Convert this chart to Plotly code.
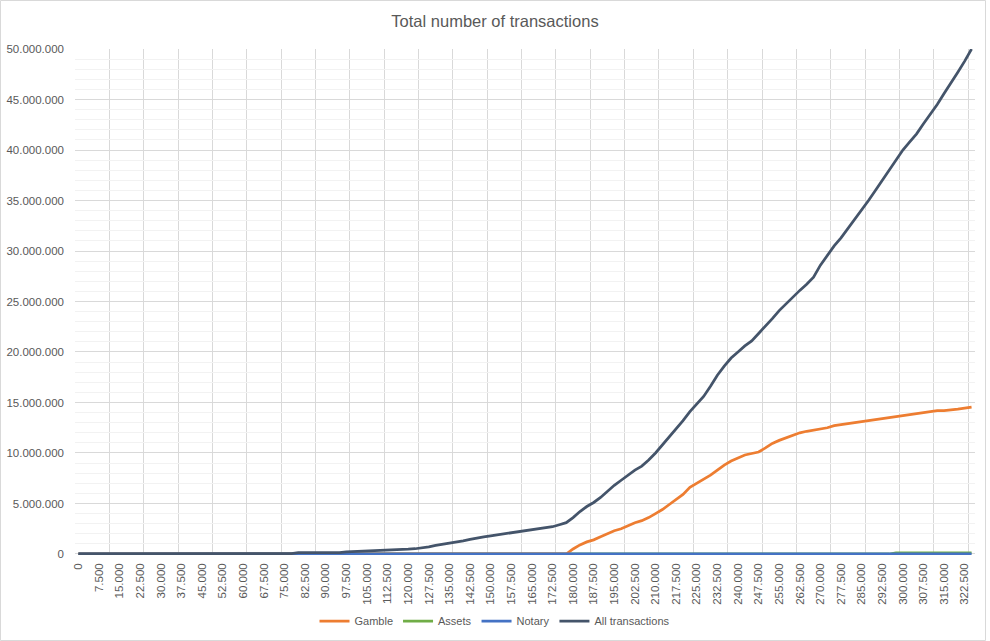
import plotly.graph_objects as go

# Categories (x) : 0 .. 325.000 step 2.500
categories = list(range(0, 327500, 2500))

# Values in millions, one per category
all_transactions_m = [
    0, 0, 0, 0, 0, 0, 0, 0,
    0.04, 0.04, 0.04, 0.04, 0.04, 0.04, 0.04, 0.04, 0.04, 0.04, 0.04, 0.04,
    0.04, 0.04, 0.04, 0.04, 0.04, 0.04, 0.04, 0.04, 0.04, 0.04, 0.04, 0.04,
    0.13, 0.13, 0.13, 0.13, 0.13, 0.13, 0.13,
    0.22, 0.24, 0.26, 0.28, 0.30, 0.32,
    0.35, 0.38, 0.42, 0.47, 0.52,
    0.58,
    0.70, 0.85, 0.95, 1.05, 1.2, 1.3, 1.45, 1.6,
    1.7, 1.8, 1.9, 2.0, 2.1, 2.2, 2.3, 2.4, 2.5, 2.6, 2.7,
    2.9, 3.1, 3.6, 4.2, 4.7, 5.1, 5.6, 6.2, 6.8, 7.3,
    7.8, 8.3, 8.7, 9.3, 10.0, 10.8, 11.6, 12.3, 13.2, 14.1,
    14.8, 15.6, 16.6, 17.7, 18.6, 19.4, 20.0, 20.6, 21.1, 21.8,
    22.6, 23.3, 24.1, 24.8, 25.5, 26.1, 26.7, 27.4, 28.6, 29.6,
    30.5, 31.3, 32.2, 33.2, 34.1, 35.0, 36.0, 37.0, 38.0, 39.0,
    40.0, 40.8, 41.6, 42.6, 43.5, 44.5, 45.6, 46.6, 47.7, 48.8,
    50.0,
]

gamble_m = [
    0, 0, 0, 0, 0, 0, 0, 0, 0, 0, 0, 0, 0, 0, 0, 0, 0, 0, 0, 0,
    0, 0, 0, 0, 0, 0, 0, 0, 0, 0, 0, 0, 0, 0, 0, 0, 0, 0, 0, 0,
    0, 0, 0, 0, 0, 0, 0, 0, 0, 0, 0, 0, 0, 0, 0, 0, 0, 0, 0, 0,
    0, 0, 0, 0, 0, 0, 0, 0, 0, 0, 0, 0,
    0.5, 0.9, 1.2, 1.4, 1.7, 2.0, 2.3, 2.5,
    2.8, 3.1, 3.3, 3.6, 4.0, 4.4, 4.9, 5.4, 5.9, 6.6,
    7.0, 7.4, 7.8, 8.3, 8.8, 9.2, 9.5, 9.8, 9.95, 10.1,
    10.5, 10.95, 11.25, 11.5, 11.7, 12.0, 12.15, 12.25, 12.35, 12.5,
    12.7, 12.8, 12.9, 13.0, 13.1, 13.2, 13.3, 13.4, 13.5, 13.6,
    13.7, 13.8, 13.9, 14.0, 14.1, 14.2, 14.2, 14.25, 14.35, 14.45,
    14.55,
]

assets_m = [
    0, 0, 0, 0, 0, 0, 0, 0, 0, 0, 0, 0, 0, 0, 0, 0, 0, 0, 0, 0,
    0, 0, 0, 0, 0, 0, 0, 0, 0, 0, 0, 0, 0, 0, 0, 0, 0, 0, 0, 0,
    0, 0, 0, 0, 0, 0, 0, 0, 0, 0, 0, 0, 0, 0, 0, 0, 0, 0, 0, 0,
    0, 0, 0, 0, 0, 0, 0, 0, 0, 0, 0, 0, 0, 0, 0, 0, 0, 0, 0, 0,
    0, 0, 0, 0, 0, 0, 0, 0, 0, 0, 0, 0, 0, 0, 0, 0, 0, 0, 0, 0,
    0, 0, 0, 0, 0, 0, 0, 0, 0, 0, 0, 0, 0, 0, 0, 0, 0, 0, 0,
    0.12, 0.12, 0.12, 0.12, 0.12, 0.12, 0.12, 0.12, 0.12, 0.12, 0.12, 0.12,
]

notary_m = [
    0, 0, 0, 0, 0, 0, 0, 0, 0, 0, 0, 0, 0, 0, 0, 0, 0, 0, 0, 0,
    0, 0, 0, 0, 0, 0, 0, 0, 0, 0, 0, 0, 0, 0, 0, 0, 0, 0, 0, 0,
    0, 0, 0, 0, 0, 0, 0, 0, 0, 0, 0, 0, 0, 0, 0, 0, 0, 0, 0, 0,
    0, 0, 0, 0, 0, 0, 0, 0, 0, 0, 0, 0, 0, 0, 0, 0, 0, 0, 0, 0,
    0, 0, 0, 0, 0, 0, 0, 0, 0, 0, 0, 0, 0, 0, 0, 0, 0, 0, 0, 0,
    0, 0, 0, 0, 0, 0, 0, 0, 0, 0, 0, 0, 0, 0, 0, 0, 0, 0, 0, 0,
    0, 0, 0, 0, 0, 0, 0, 0, 0, 0, 0,
]

# (name, values, colour, legend rank) in drawing order
series = [
    ("Assets", assets_m, "#70AD47", 2),
    ("Gamble", gamble_m, "#ED7D31", 1),
    ("Notary", notary_m, "#4472C4", 3),
    ("All transactions", all_transactions_m, "#44546A", 4),
]

FONT = "Liberation Sans"
TXT = "#595959"

fig = go.Figure()
for name, vals, color, rank in series:
    fig.add_trace(go.Scatter(
        x=categories, y=[v * 1e6 for v in vals], name=name, mode="lines",
        line=dict(color=color, width=2.75), legendrank=rank,
    ))

fig.update_layout(
    width=990, height=641,
    margin=dict(l=75, r=15, t=49, b=86, autoexpand=False),
    paper_bgcolor="white", plot_bgcolor="white",
    separators=",.",
    font=dict(family=FONT, color=TXT, size=11),
    title=dict(text="Total number of transactions", x=0.5, xref="container",
               xanchor="center", y=1 - 21 / 641, yref="container", yanchor="middle",
               font=dict(size=16.5, color=TXT, family=FONT)),
    legend=dict(orientation="h", x=0.5, xref="container", xanchor="center",
                y=1 - 621 / 641, yref="container", yanchor="middle",
                font=dict(size=11, color=TXT), itemwidth=30, traceorder="normal"),
    showlegend=True,
    hovermode=False,
)

fig.update_xaxes(
    range=[-1250, 326250], tick0=0, dtick=7500, tickformat=",d",
    tickangle=-90, showgrid=False, zeroline=False, automargin=False,
    showline=False, layer="below traces",
    ticks="", ticklabelstandoff=5,
    tickfont=dict(size=11.5, color=TXT),
    minor=dict(tick0=-1250, dtick=12500, showgrid=True, gridcolor="#D9D9D9", gridwidth=1, ticks=""),
)
fig.update_yaxes(
    range=[-0.1e6, 50e6], tick0=0, dtick=5e6, tickformat=",d",
    showgrid=True, gridcolor="#D9D9D9", gridwidth=1, zeroline=False, automargin=False,
    showline=False, ticks="", ticklabelstandoff=10, layer="below traces",
    tickfont=dict(size=11.5, color=TXT),
    minor=dict(dtick=1e6, showgrid=True, gridcolor="#F2F2F2", gridwidth=1, ticks=""),
)

# chart-area border
fig.add_shape(type="rect", xref="paper", yref="paper",
              x0=(0.5 - 75) / 900, x1=(985.5 - 75) / 900,
              y0=(555 - 640.5) / 506, y1=(555 - 0.5) / 506,
              line=dict(color="#D9D9D9", width=1), fillcolor="rgba(0,0,0,0)", layer="below")

fig.write_html("out.html")
